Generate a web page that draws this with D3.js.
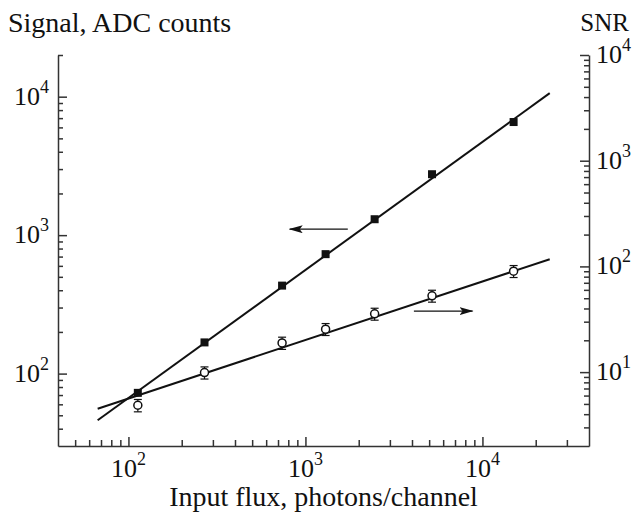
<!DOCTYPE html>
<html>
<head>
<meta charset="utf-8">
<script src="https://cdn.jsdelivr.net/npm/d3@7"></script>
<style>
  body { margin: 0; background: #fff; }
  text { font-family: "Liberation Serif", "Times New Roman", serif; fill: #111; }
</style>
</head>
<body>
<div id="chartContainer"></div>
<script>
// Chart size
const w = 640;
const h = 516;
const margins = { top: 55, left: 58, right: 51, bottom: 70 };
const innerWidth = w - margins.left - margins.right;
const innerHeight = h - margins.top - margins.bottom;

// Data
const flux = [113, 269, 738, 1300, 2460, 5190, 15000];
const signal = [72.6, 168, 432, 729, 1303, 2754, 6560];
const snr = [4.86, 9.9, 18.9, 25.5, 35.6, 52.7, 90.2];
const snrErr = [0.65, 1.3, 2.5, 3.3, 4.6, 6.8, 11.7];

// Fitted lines (end points)
const fitFlux = [67, 24000];
const signalFit = [46, 10600];
const snrFit = [4.5, 117];

// Tick values
const xMajor = [100, 1000, 10000];
const xMinor = [50, 60, 70, 80, 90, 200, 300, 400, 500, 600, 700, 800, 900,
  2000, 3000, 4000, 5000, 6000, 7000, 8000, 9000, 20000, 30000];
const yLeftMajor = [100, 1000, 10000];
const yLeftMinor = [40, 50, 60, 70, 80, 90, 200, 300, 400, 500, 600, 700, 800, 900,
  2000, 3000, 4000, 5000, 6000, 7000, 8000, 9000, 20000];
const yRightMajor = [10, 100, 1000, 10000];
const yRightMinor = [3, 4, 5, 6, 7, 8, 9, 20, 30, 40, 50, 60, 70, 80, 90,
  200, 300, 400, 500, 600, 700, 800, 900, 2000, 3000, 4000, 5000, 6000, 7000, 8000, 9000];

const labelSize = 26;
const expSize = 18;

const svg = d3.select("#chartContainer")
  .append("svg")
    .attr("width", w)
    .attr("height", h);

const mainG = svg.append("g")
  .attr("transform", `translate(${margins.left}, ${margins.top})`);

// Scales
const xScale = d3.scaleLog().domain([40, 40000]).range([0, innerWidth]);
const yLeft = d3.scaleLog().domain([30, 20000]).range([innerHeight, 0]);
const yRight = d3.scaleLog().domain([2, 10000]).range([innerHeight, 0]);

function styleAxis(g) {
  g.selectAll("path, line").attr("stroke", "#333").attr("stroke-width", 1.5);
  g.selectAll(".tick text").remove();
}

// Bottom axis
mainG.append("g")
  .attr("transform", `translate(0, ${innerHeight})`)
  .call(d3.axisBottom(xScale).tickValues(xMinor).tickSizeInner(-6).tickSizeOuter(0))
  .call(styleAxis);
mainG.append("g")
  .attr("transform", `translate(0, ${innerHeight})`)
  .call(d3.axisBottom(xScale).tickValues(xMajor).tickSizeInner(-9).tickSizeOuter(0))
  .call(styleAxis)
  .call(g => g.select(".domain").remove());

// Left axis
mainG.append("g")
  .call(d3.axisLeft(yLeft).tickValues(yLeftMinor).tickSizeInner(-5).tickSizeOuter(0))
  .call(styleAxis);
mainG.append("g")
  .call(d3.axisLeft(yLeft).tickValues(yLeftMajor).tickSizeInner(-9).tickSizeOuter(0))
  .call(styleAxis)
  .call(g => g.select(".domain").remove());

// Right axis
mainG.append("g")
  .attr("transform", `translate(${innerWidth}, 0)`)
  .call(d3.axisRight(yRight).tickValues(yRightMinor).tickSizeInner(-5).tickSizeOuter(0))
  .call(styleAxis);
mainG.append("g")
  .attr("transform", `translate(${innerWidth}, 0)`)
  .call(d3.axisRight(yRight).tickValues(yRightMajor).tickSizeInner(-9).tickSizeOuter(0))
  .call(styleAxis)
  .call(g => g.select(".domain").remove());

// Power-of-ten tick labels, drawn in page coordinates
// align: "end" (right edge at x), "start" (left edge at x), "middle"
function powerLabel(value, x, yBase, align) {
  const base = svg.append("text").attr("font-size", labelSize).attr("y", yBase).text("10");
  const exp = svg.append("text").attr("font-size", expSize).attr("y", yBase - 12)
    .text(Math.round(Math.log10(value)));
  const bw = base.node().getComputedTextLength();
  const ew = exp.node().getComputedTextLength();
  let x0 = x;
  if (align === "end") x0 = x - bw - ew;
  if (align === "middle") x0 = x - (bw + ew) / 2;
  base.attr("x", x0);
  exp.attr("x", x0 + bw);
}

xMajor.forEach(d => powerLabel(d, margins.left + xScale(d), margins.top + innerHeight + 31, "middle"));
yLeftMajor.forEach(d => powerLabel(d, margins.left - 9, margins.top + yLeft(d) + 8, "end"));
yRightMajor.forEach(d => powerLabel(d, margins.left + innerWidth + 7, margins.top + yRight(d) + 8, "start"));

// Fit lines
const signalLine = d3.line().x((d, i) => xScale(fitFlux[i])).y(d => yLeft(d));
const snrLine = d3.line().x((d, i) => xScale(fitFlux[i])).y(d => yRight(d));

mainG.append("path")
  .attr("d", signalLine(signalFit))
  .attr("fill", "none").attr("stroke", "#111").attr("stroke-width", 2);
mainG.append("path")
  .attr("d", snrLine(snrFit))
  .attr("fill", "none").attr("stroke", "#111").attr("stroke-width", 2);

// SNR error bars
const errG = mainG.selectAll(".err")
  .data(flux)
  .enter()
  .append("g")
    .attr("class", "err");
errG.append("line")
  .attr("x1", d => xScale(d)).attr("x2", d => xScale(d))
  .attr("y1", (d, i) => yRight(snr[i] - snrErr[i]))
  .attr("y2", (d, i) => yRight(snr[i] + snrErr[i]))
  .attr("stroke", "#111").attr("stroke-width", 1.2);
errG.append("line")
  .attr("x1", d => xScale(d) - 4).attr("x2", d => xScale(d) + 4)
  .attr("y1", (d, i) => yRight(snr[i] - snrErr[i]))
  .attr("y2", (d, i) => yRight(snr[i] - snrErr[i]))
  .attr("stroke", "#111").attr("stroke-width", 1.2);
errG.append("line")
  .attr("x1", d => xScale(d) - 4).attr("x2", d => xScale(d) + 4)
  .attr("y1", (d, i) => yRight(snr[i] + snrErr[i]))
  .attr("y2", (d, i) => yRight(snr[i] + snrErr[i]))
  .attr("stroke", "#111").attr("stroke-width", 1.2);

// SNR circles
mainG.selectAll(".snrPt")
  .data(flux)
  .enter()
  .append("circle")
    .attr("class", "snrPt")
    .attr("cx", d => xScale(d))
    .attr("cy", (d, i) => yRight(snr[i]))
    .attr("r", 4)
    .attr("fill", "#fff")
    .attr("stroke", "#111")
    .attr("stroke-width", 1.5);

// Signal squares
mainG.selectAll(".sigPt")
  .data(flux)
  .enter()
  .append("rect")
    .attr("class", "sigPt")
    .attr("x", d => xScale(d) - 4)
    .attr("y", (d, i) => yLeft(signal[i]) - 4)
    .attr("width", 8)
    .attr("height", 8)
    .attr("fill", "#111");

// Arrows showing which axis each curve belongs to
svg.append("defs").append("marker")
  .attr("id", "head")
  .attr("viewBox", "0 0 14 8")
  .attr("refX", 13).attr("refY", 4)
  .attr("markerWidth", 14).attr("markerHeight", 8)
  .attr("markerUnits", "userSpaceOnUse")
  .attr("orient", "auto")
  .append("path")
    .attr("d", "M0,0 L14,4 L0,8 L3,4 Z")
    .attr("fill", "#111");

mainG.append("line")
  .attr("x1", xScale(1735)).attr("x2", xScale(815))
  .attr("y1", yLeft(1104)).attr("y2", yLeft(1104))
  .attr("stroke", "#111").attr("stroke-width", 1.3)
  .attr("marker-end", "url(#head)");
mainG.append("line")
  .attr("x1", xScale(4100)).attr("x2", xScale(8790))
  .attr("y1", yRight(37.8)).attr("y2", yRight(37.8))
  .attr("stroke", "#111").attr("stroke-width", 1.3)
  .attr("marker-end", "url(#head)");

// Axis titles
svg.append("text")
  .text("Signal, ADC counts")
  .attr("x", 8)
  .attr("y", 32)
  .attr("font-size", 28);

svg.append("text")
  .text("SNR")
  .attr("x", 629)
  .attr("y", 31)
  .attr("text-anchor", "end")
  .attr("font-size", 25);

svg.append("text")
  .text("Input flux, photons/channel")
  .attr("x", margins.left + innerWidth / 2)
  .attr("y", 506)
  .attr("text-anchor", "middle")
  .attr("font-size", 28);
</script>
</body>
</html>
